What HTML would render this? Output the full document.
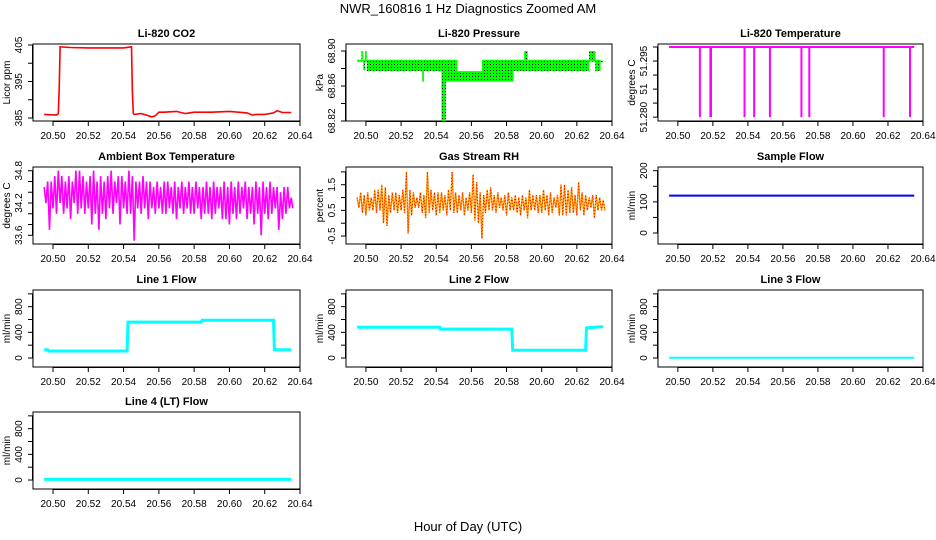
<!DOCTYPE html>
<html><head><meta charset="utf-8"><style>
html,body{margin:0;padding:0;background:#fff;}
svg{display:block;font-family:"Liberation Sans",Arial,sans-serif;}
</style></head><body>
<svg id="chart" width="936" height="540" viewBox="0 0 936 540">
<defs><pattern id="dots" width="3" height="3" patternUnits="userSpaceOnUse"><rect width="3" height="3" fill="#00ff00"/><rect x="1" y="1" width="1" height="1" fill="#000"/></pattern></defs>
<text x="468" y="13" text-anchor="middle" font-size="13">NWR_160816  1 Hz Diagnostics Zoomed AM</text>
<text x="468" y="531" text-anchor="middle" font-size="13">Hour of Day (UTC)</text>
</svg>
<script>
// ---- data ----
const xTicks = [20.50,20.52,20.54,20.56,20.58,20.60,20.62,20.64];
const xTickLabels = ["20.50","20.52","20.54","20.56","20.58","20.60","20.62","20.64"];
const co2Times = [20.495,20.502,20.503,20.5035,20.504,20.51,20.52,20.53,20.54,20.5445,20.545,20.5455,20.546,20.55,20.553,20.556,20.558,20.56,20.563,20.57,20.575,20.58,20.59,20.60,20.605,20.61,20.613,20.615,20.62,20.625,20.627,20.63,20.635];
const co2Values = [386.0,385.8,386.2,393,404.5,404.3,404.2,404.2,404.2,404.5,392,386.3,386,386.2,385.8,385.3,385.6,386.6,386.6,386.8,386.2,386.6,386.6,386.8,386.6,386.4,385.8,386,386,386.4,387,386.5,386.5];
const presTimes = [20.495,20.4975,20.4985,20.4995,20.5005,20.532,20.533,20.543,20.5455,20.552,20.566,20.584,20.590,20.592,20.627,20.6305,20.6335,20.635];
const presLo = [68.888,68.888,68.878,68.888,68.877,68.865,68.877,68.82,68.865,68.865,68.865,68.877,68.877,68.877,68.888,68.877,68.887];
const presHi = [68.890,68.900,68.890,68.900,68.890,68.890,68.890,68.89,68.890,68.877,68.890,68.890,68.900,68.890,68.900,68.890,68.889];
const tempDropStart = [20.512,20.518,20.5375,20.543,20.552,20.570,20.5745,20.617,20.632];
const tempDropEnd = [20.513,20.5195,20.5385,20.544,20.553,20.571,20.5755,20.6177,20.633];
const tempDropMin = [51.280,51.280,51.280,51.280,51.280,51.280,51.280,51.280,51.280];
const tempBase = 51.300;
const binStart = 20.495, binStep = 0.002;
const ambHi = [34.5,34.6,34.6,34.7,34.8,34.7,34.6,34.7,34.6,34.8,34.8,34.7,34.6,34.7,34.8,34.6,34.7,34.6,34.7,34.8,34.6,34.7,34.7,34.6,34.8,34.7,34.6,34.6,34.7,34.6,34.6,34.5,34.6,34.5,34.6,34.6,34.5,34.6,34.5,34.6,34.5,34.6,34.5,34.6,34.5,34.5,34.6,34.5,34.6,34.5,34.5,34.6,34.5,34.6,34.5,34.6,34.5,34.6,34.5,34.5,34.6,34.5,34.6,34.5,34.6,34.5,34.5,34.4,34.5,34.5,34.3];
const ambLo = [34.2,33.7,34.1,34.0,34.2,34.0,34.1,33.9,34.2,34.0,34.1,34.0,34.1,33.8,34.0,33.7,34.0,33.9,34.1,34.0,34.2,33.8,34.1,34.0,34.0,33.5,34.1,34.0,34.1,33.9,34.1,34.0,34.1,34.0,34.0,34.1,34.0,33.9,34.1,34.0,34.1,34.0,34.0,34.1,33.9,34.0,34.0,33.9,34.0,34.1,33.9,33.9,33.8,34.0,33.9,34.0,34.1,33.9,34.0,33.8,34.0,33.6,34.0,33.9,34.0,34.1,33.7,33.9,34.0,34.1,34.1];
const rhHi = [1.0,1.2,1.1,1.2,1.0,1.3,1.3,1.5,1.4,1.1,1.2,1.2,1.1,1.3,2.0,1.3,1.2,1.0,1.2,1.1,2.0,1.3,1.2,1.2,1.2,1.1,1.3,2.0,1.2,1.1,1.2,1.0,1.2,1.9,1.6,1.2,1.1,1.3,1.4,1.1,1.2,1.0,1.1,1.2,1.0,1.1,1.0,1.1,1.0,1.3,1.1,1.1,1.1,1.3,1.1,1.2,1.0,1.1,1.5,1.5,1.3,1.4,1.1,1.6,1.2,1.1,1.0,1.1,1.1,1.0,0.9];
const rhLo = [0.6,0.4,0.3,0.5,0.5,0.4,0.5,0.0,-0.1,0.4,0.5,0.4,0.5,0.4,-0.4,0.3,0.6,0.6,0.4,0.2,0.4,0.5,0.3,0.4,0.5,0.3,0.5,0.4,0.4,0.5,0.3,0.5,0.4,0.1,0.0,-0.6,0.4,0.5,0.5,0.4,0.6,0.5,0.3,0.5,0.5,0.4,0.3,0.5,0.2,0.5,0.5,0.4,0.4,0.5,0.3,0.4,0.6,0.3,0.3,0.3,0.4,0.4,0.3,0.5,0.3,0.5,0.6,0.2,0.5,0.5,0.5];
const sampleTimes = [20.495,20.635];
const sampleValues = [120,120];
const line1Times = [20.495,20.497,20.4975,20.542,20.5425,20.584,20.5845,20.625,20.6255,20.635];
const line1Values = [130,130,110,110,560,560,590,590,130,130];
const line2Times = [20.495,20.542,20.5425,20.583,20.5835,20.625,20.6255,20.635];
const line2Values = [480,480,450,450,120,120,470,490];
const line3Times = [20.495,20.635];
const line3Values = [5,5];
const line4Times = [20.495,20.635];
const line4Values = [10,10];

const NS = "http://www.w3.org/2000/svg";
const svg = document.getElementById('chart');
function mk(tag, attrs, parent){ const e=document.createElementNS(NS,tag); for(const k in attrs) e.setAttribute(k,attrs[k]); (parent||svg).appendChild(e); return e; }

const colLeft = [33,346,658], colRight = [300,612,923];
const rowTop = [44,167,290,412], boxH = 77;
const X0 = 20.48866, X1 = 20.64;

function panel(col,row,title,ylab,yMin,yMax,ticks,labels,name){
  const L=colLeft[col], R=colRight[col], T=rowTop[row], B=T+boxH;
  const sx = v => L + (v-X0)/(X1-X0)*(R-L);
  const sy = v => B - (v-yMin)/(yMax-yMin)*boxH;
  const g = mk('g',{});
  
  
  const box = mk('rect',{x:L,y:T,width:R-L,height:boxH,fill:'none',stroke:'#000','stroke-width':1},g);
  
  
  const t = mk('text',{x:(L+R)/2,y:T-7,'text-anchor':'middle','font-size':11,'font-weight':'bold'},g);
  t.textContent = title;
  
  
  const xa = mk('g',{},g);
  
  
  mk('line',{x1:sx(xTicks[0]),x2:sx(xTicks[xTicks.length-1]),y1:B+0.5,y2:B+0.5,stroke:'#000'},xa);
  xTicks.forEach((v,i)=>{
    mk('line',{x1:sx(v),x2:sx(v),y1:B,y2:B+5,stroke:'#000'},xa);
    const lt = mk('text',{x:sx(v),y:B+18,'text-anchor':'middle','font-size':10},xa);
    lt.textContent = xTickLabels[i];
    
    
  });
  const ya = mk('g',{},g);
  
  
  mk('line',{x1:L-0.5,x2:L-0.5,y1:sy(ticks[0]),y2:sy(ticks[ticks.length-1]),stroke:'#000'},ya);
  ticks.forEach((v,i)=>{
    mk('line',{x1:L-5,x2:L,y1:sy(v),y2:sy(v),stroke:'#000'},ya);
    if(labels[i]){
      const yy=sy(v), xx=L-11;
      const lt = mk('text',{x:xx,y:yy,'text-anchor':'middle','font-size':10,transform:`rotate(-90 ${xx} ${yy})`},ya);
      lt.textContent = labels[i];
      
      
    }
  });
  const yt = mk('text',{x:L-23,y:(T+B)/2,'text-anchor':'middle','font-size':10,transform:`rotate(-90 ${L-23} ${(T+B)/2})`},g);
  yt.textContent = ylab;
  
  
  return {sx,sy,g};
}
function line(p,ts,vs,color,w,name){
  const pts = ts.map((t,i)=>p.sx(t).toFixed(1)+','+p.sy(vs[i]).toFixed(1)).join(' ');
  const pl = mk('polyline',{points:pts,fill:'none',stroke:color,'stroke-width':w},p.g);
  
  
}
function zig(p,hi,lo,color,w,name,dash){
  const pts=[];
  const n=Math.min(hi.length,lo.length);
  for(let i=0;i<n;i++){
    const t=binStart+binStep*i;
    pts.push(p.sx(t).toFixed(1)+','+p.sy(hi[i]).toFixed(1));
    pts.push(p.sx(t+binStep/2).toFixed(1)+','+p.sy(lo[i]).toFixed(1));
  }
  const pl = mk('polyline',{points:pts.join(' '),fill:'none',stroke:color,'stroke-width':w},p.g);
  
  
  if(dash){ const d=mk('polyline',{points:pts.join(' '),fill:'none',stroke:dash,'stroke-width':1,'stroke-dasharray':'1 2'},p.g);
    
     }
}

let p = panel(0,0,'Li-820 CO2','Licor ppm',384.18,405.27,[385,390,395,400,405],['385','','395','','405'],'co2');
line(p,co2Times,co2Values,'#ff0000',1.6,'co2-line');
p = panel(1,0,'Li-820 Pressure','kPa',68.82,68.908,[68.82,68.84,68.86,68.88,68.90],['68.82','','68.86','','68.90'],'pressure');
for(let i=0;i<presLo.length;i++){
  const x1=p.sx(presTimes[i]), x2=p.sx(presTimes[i+1]);
  const r = mk('rect',{x:x1,y:p.sy(presHi[i]),width:Math.max(1,x2-x1),height:Math.max(1.5,p.sy(presLo[i])-p.sy(presHi[i])),fill:'url(#dots)'},p.g);
  
  
}
p = panel(2,0,'Li-820 Temperature','degrees C',51.2789,51.30086,[51.280,51.284,51.288,51.292,51.296,51.300],['51.280','','51','','51.295',''],'li820-temp');
line(p,[20.495,20.635],[tempBase,tempBase],'#ff00ff',2,'temp-baseline');
for(let i=0;i<tempDropStart.length;i++){
  const x1=p.sx(tempDropStart[i]), x2=p.sx(tempDropEnd[i]);
  const r = mk('rect',{x:x1,y:p.sy(tempBase),width:Math.max(2,x2-x1),height:p.sy(tempDropMin[i])-p.sy(tempBase),fill:'#ff00ff'},p.g);
  
  
}
p = panel(0,1,'Ambient Box Temperature','degrees C',33.438,34.869,[33.6,33.8,34.0,34.2,34.4,34.6,34.8],['33.6','','','34.2','','','34.8'],'ambient-temp');
zig(p,ambHi,ambLo,'#ff00ff',1.6,'ambient-line');
p = panel(1,1,'Gas Stream RH','percent',-0.81,2.19,[-0.5,0,0.5,1,1.5,2],['-0.5','','0.5','','1.5',''],'rh');
zig(p,rhHi,rhLo,'#ffa500',1.4,'rh-line','#ff0000');
p = panel(2,1,'Sample Flow','ml/min',-35.3,211.9,[0,50,100,150,200],['0','','100','','200'],'sample-flow');
line(p,sampleTimes,sampleValues,'#0000ff',2,'sample-flow-line');
const fT=[0,200,400,600,800,1000], fL=['0','','400','','800',''];
p = panel(0,2,'Line 1 Flow','ml/min',-140,1060,fT,fL,'line1-flow');
line(p,line1Times,line1Values,'#00ffff',3,'line1-flow-line');
p = panel(1,2,'Line 2 Flow','ml/min',-140,1060,fT,fL,'line2-flow');
line(p,line2Times,line2Values,'#00ffff',3,'line2-flow-line');
p = panel(2,2,'Line 3 Flow','ml/min',-140,1060,fT,fL,'line3-flow');
line(p,line3Times,line3Values,'#00ffff',2,'line3-flow-line');
p = panel(0,3,'Line 4 (LT) Flow','ml/min',-140,1060,fT,fL,'line4-flow');
line(p,line4Times,line4Values,'#00ffff',3,'line4-flow-line');
</script>
</body></html>
